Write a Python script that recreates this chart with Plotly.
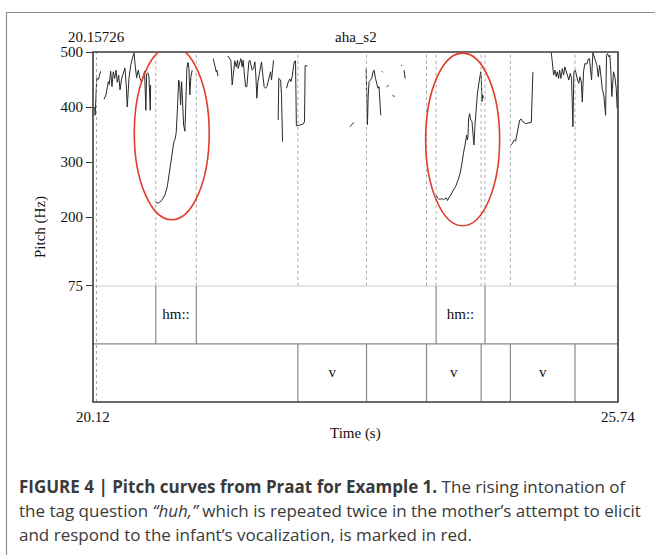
import plotly.graph_objects as go

# ---------------- data ----------------
time_range = [20.12, 25.74]
time_tick_vals = [20.12, 25.74]
time_tick_text = ["20.12", "25.74"]
pitch_range = [75, 500]
pitch_tick_vals = [75, 200, 300, 400, 500]
cursor_time = 20.15726
cursor_label = "20.15726"
sound_name = "aha_s2"

tier1_bounds = [20.792, 21.226, 23.793, 24.316]
tier1_intervals = [[20.792, 21.226], [23.793, 24.316]]
tier1_labels = ["hm::", "hm::"]
tier2_bounds = [22.313, 23.048, 23.690, 24.275, 24.588, 25.280]
tier2_intervals = [[22.313, 23.048], [23.690, 24.275], [24.588, 25.280]]
tier2_labels = ["v", "v", "v"]

highlight_t = [[20.562, 21.364], [23.681, 24.473]]
highlight_hz = [[195, 510], [184, 498]]

pitch_segments_t = [
    [20.138, 20.143, 20.160, 20.177, 20.202],
    [20.238, 20.259, 20.284, 20.294, 20.309, 20.323, 20.337, 20.352, 20.366, 20.380,
     20.395, 20.409, 20.427, 20.444, 20.462, 20.476, 20.487, 20.505, 20.523, 20.545,
     20.559, 20.572, 20.587, 20.604, 20.623, 20.641, 20.658, 20.672, 20.686, 20.694,
     20.708, 20.719, 20.733, 20.737],
    [20.791, 20.818, 20.855, 20.890, 20.915, 20.936, 20.954, 20.972, 20.986, 21.000,
     21.011, 21.022, 21.029, 21.037, 21.047, 21.058, 21.069, 21.079, 21.090, 21.104,
     21.115, 21.125, 21.136, 21.147, 21.157, 21.168, 21.182],
    [21.407, 21.425, 21.439, 21.446, 21.457],
    [21.561, 21.578, 21.596, 21.610, 21.628, 21.638, 21.653, 21.668, 21.674, 21.689,
     21.703, 21.717, 21.727, 21.738, 21.753, 21.767, 21.778, 21.788, 21.799, 21.810,
     21.824, 21.839, 21.853, 21.863, 21.874, 21.885, 21.895, 21.909, 21.924, 21.938,
     21.952, 21.967, 21.981, 21.995, 22.010, 22.021, 22.031, 22.042, 22.053],
    [22.102, 22.109, 22.128, 22.138, 22.149],
    [22.192, 22.209, 22.227, 22.238, 22.252, 22.262, 22.273, 22.288, 22.297, 22.334,
     22.369, 22.384, 22.391, 22.414],
    [22.869, 22.898, 22.912],
    [23.044, 23.052, 23.058, 23.066, 23.075, 23.090, 23.104, 23.118, 23.129, 23.144,
     23.157, 23.171, 23.182, 23.193, 23.200],
    [23.214, 23.221],
    [23.264, 23.285],
    [23.329, 23.346],
    [23.419, 23.428],
    [23.449, 23.462],
    [23.796, 23.807, 23.821, 23.842, 23.856, 23.871, 23.885, 23.903, 23.914, 23.928,
     23.941, 23.963, 23.984, 24.006, 24.027, 24.045, 24.063, 24.077, 24.088, 24.099,
     24.109, 24.120, 24.127, 24.134, 24.141, 24.152, 24.163, 24.177, 24.187, 24.198,
     24.209, 24.219, 24.234, 24.248, 24.262, 24.270, 24.277, 24.284, 24.291, 24.299],
    [24.598, 24.615, 24.630, 24.644, 24.658, 24.673, 24.687, 24.705, 24.722, 24.751,
     24.786, 24.812, 24.829],
    [25.026, 25.037, 25.051, 25.065, 25.079, 25.090, 25.104, 25.115, 25.129, 25.144,
     25.158, 25.171, 25.186, 25.200, 25.214, 25.229, 25.243, 25.257, 25.268, 25.283,
     25.293, 25.307, 25.321, 25.332, 25.347, 25.358, 25.371, 25.385, 25.407, 25.422,
     25.435, 25.446, 25.457, 25.471, 25.489, 25.514, 25.529, 25.543, 25.556, 25.571,
     25.589, 25.607, 25.617, 25.628, 25.642, 25.653, 25.663, 25.674, 25.692, 25.706,
     25.721, 25.731],
]
pitch_segments_hz = [
    [400, 385, 452, 450, 465],
    [414, 422, 446, 441, 465, 437, 464, 452, 467, 445,
     458, 431, 452, 461, 471, 440, 400, 452, 475, 491,
     498, 475, 453, 467, 452, 445, 457, 465, 394, 460,
     462, 455, 394, 440],
    [227, 225, 230, 240, 255, 279, 303, 325, 337, 342,
     354, 391, 434, 449, 443, 404, 446, 416, 367, 356,
     422, 470, 481, 470, 422, 455, 467],
    [488, 476, 464, 467, 456],
    [493, 490, 485, 440, 464, 484, 473, 485, 470, 479,
     488, 473, 485, 464, 437, 437, 464, 482, 485, 479,
     467, 470, 482, 458, 416, 446, 455, 465, 482, 458,
     437, 434, 437, 446, 458, 464, 449, 473, 485],
    [376, 452, 449, 422, 337],
    [434, 445, 451, 446, 455, 475, 482, 484, 366, 367,
     369, 373, 475, 475],
    [364, 370, 372],
    [470, 420, 368, 420, 446, 449, 452, 464, 467, 452,
     440, 434, 437, 404, 385],
    [465, 463],
    [437, 439],
    [422, 418],
    [476, 475],
    [467, 452],
    [240, 235, 233, 232, 234, 231, 233, 235, 230, 234,
     238, 246, 252, 257, 267, 276, 291, 312, 318, 328,
     337, 349, 340, 346, 379, 388, 376, 374, 352, 331,
     367, 391, 422, 440, 455, 464, 452, 410, 422, 416],
    [331, 337, 340, 338, 349, 361, 376, 378, 373, 370,
     371, 372, 464],
    [499, 476, 458, 467, 455, 464, 452, 467, 452, 470,
     458, 473, 464, 458, 449, 461, 452, 364, 464, 467,
     458, 449, 443, 455, 446, 409, 464, 479, 478, 487,
     488, 464, 449, 499, 490, 476, 455, 476, 458, 434,
     420, 385, 494, 497, 491, 494, 467, 419, 464, 455,
     434, 397],
]

caption_lines = [
    "<b>FIGURE 4 | Pitch curves from Praat for Example 1.</b> The rising intonation of",
    "the tag question <i>\u201chuh,\u201d</i> which is repeated twice in the mother\u2019s attempt to elicit",
    "and respond to the infant\u2019s vocalization, is marked in red.",
]

# ---------------- layout geometry ----------------
W, H = 655, 555
L, R, T, B = 93, 618, 52, 402
PITCH_BOTTOM_PX = 285.75


def px_x(px):
    return (px - L) / (R - L)


def px_y(py):
    return (B - py) / (B - T)


pitch_dom_lo = px_y(PITCH_BOTTOM_PX)

SERIF = "Liberation Serif"
SANS = "Open Sans"

# flatten pitch segments with gaps
px_t, px_hz = [], []
for ts, hs in zip(pitch_segments_t, pitch_segments_hz):
    px_t += ts + [None]
    px_hz += hs + [None]

fig = go.Figure()
fig.add_trace(go.Scatter(
    x=px_t, y=px_hz, mode="lines", xaxis="x", yaxis="y",
    line=dict(color="#2a2a2a", width=1), connectgaps=False,
    hoverinfo="skip", showlegend=False))

# tier labels
lab_x = [(a + b) / 2 for a, b in tier1_intervals] + [(a + b) / 2 for a, b in tier2_intervals]
lab_y = [1.5] * len(tier1_intervals) + [0.5] * len(tier2_intervals)
fig.add_trace(go.Scatter(
    x=lab_x, y=lab_y, mode="text", text=tier1_labels + tier2_labels,
    xaxis="x", yaxis="y2", textfont=dict(family=SERIF, size=15, color="#111"),
    hoverinfo="skip", showlegend=False))

shapes = []
# dotted boundary lines in pitch area
for tb in tier1_bounds + tier2_bounds:
    shapes.append(dict(type="line", xref="x", yref="y", x0=tb, x1=tb,
                       y0=pitch_range[0], y1=pitch_range[1],
                       line=dict(color="#a8a8a8", width=1, dash="dot")))
# cursor dotted line through all
shapes.append(dict(type="line", xref="x", yref="paper", x0=cursor_time, x1=cursor_time,
                   y0=0, y1=1, line=dict(color="#a8a8a8", width=1, dash="dot")))
# tier boundaries (solid)
for tb in tier1_bounds:
    shapes.append(dict(type="line", xref="x", yref="y2", x0=tb, x1=tb, y0=1, y1=2,
                       line=dict(color="#8a8a8a", width=1.2)))
for tb in tier2_bounds:
    shapes.append(dict(type="line", xref="x", yref="y2", x0=tb, x1=tb, y0=0, y1=1,
                       line=dict(color="#8a8a8a", width=1.2)))
# tier separators
for yv in [1, 2]:
    shapes.append(dict(type="line", xref="paper", yref="y2", x0=0, x1=1, y0=yv, y1=yv,
                       line=dict(color="#8a8a8a", width=1.2)))
# outer box of plot
shapes.append(dict(type="rect", xref="paper", yref="paper", x0=0, x1=1, y0=0, y1=1,
                   line=dict(color="#3a3a3a", width=1.6)))
# red highlight ellipses
for (t0, t1), (h0, h1) in zip(highlight_t, highlight_hz):
    shapes.append(dict(type="circle", xref="x", yref="y", x0=t0, x1=t1, y0=h0, y1=h1,
                       line=dict(color="#e23d2b", width=1.6)))
# figure frame
shapes.append(dict(type="rect", xref="paper", yref="paper",
                   x0=px_x(6.5), x1=px_x(700), y0=px_y(12.5), y1=px_y(700),
                   line=dict(color="#8c8c8c", width=1.2), layer="below"))

annotations = [
    dict(text=cursor_label, x=cursor_time, xref="x", y=px_y(37), yref="paper",
         showarrow=False, xanchor="center", yanchor="middle",
         font=dict(family=SERIF, size=15, color="#111")),
    dict(text=sound_name, x=0.5, xref="paper", y=px_y(37), yref="paper",
         showarrow=False, xanchor="center", yanchor="middle",
         font=dict(family=SERIF, size=15, color="#111")),
    dict(text="Pitch (Hz)", x=px_x(40), xref="paper", y=px_y(227), yref="paper",
         showarrow=False, textangle=-90, xanchor="center", yanchor="middle",
         font=dict(family=SERIF, size=15, color="#111")),
    dict(text="Time (s)", x=0.5, xref="paper", y=px_y(433), yref="paper",
         showarrow=False, xanchor="center", yanchor="middle",
         font=dict(family=SERIF, size=15, color="#111")),
]
for tv, tt in zip(time_tick_vals, time_tick_text):
    annotations.append(dict(text=tt, x=tv, xref="x", y=px_y(417), yref="paper",
                            showarrow=False, xanchor="center", yanchor="middle",
                            font=dict(family=SERIF, size=15, color="#111")))
for i, line in enumerate(caption_lines):
    annotations.append(dict(text=line, x=px_x(17), xref="paper", y=px_y(486 + 24 * i),
                            yref="paper", showarrow=False, xanchor="left", yanchor="middle",
                            align="left",
                            font=dict(family=SANS, size=17, color="#3a3a3a")))

fig.update_layout(
    width=W, height=H, margin=dict(l=L, r=W - R, t=T, b=H - B),
    paper_bgcolor="white", plot_bgcolor="white", showlegend=False,
    xaxis=dict(range=time_range, showgrid=False, zeroline=False, showticklabels=False,
               ticks="", showline=False, anchor="y2", fixedrange=True),
    yaxis=dict(domain=[pitch_dom_lo, 1], range=pitch_range, tickvals=pitch_tick_vals,
               ticks="outside", ticklen=6, tickcolor="#333", tickwidth=1.2,
               showgrid=False, zeroline=False, showline=False,
               tickfont=dict(family=SERIF, size=15, color="#111"), anchor="x"),
    yaxis2=dict(domain=[0, pitch_dom_lo], range=[0, 2], showgrid=False, zeroline=False,
                showticklabels=False, ticks="", showline=False, anchor="x"),
    shapes=shapes, annotations=annotations,
)

fig.write_html("out.html", config={"displayModeBar": False},
               post_script="document.body.style.margin='0';")
